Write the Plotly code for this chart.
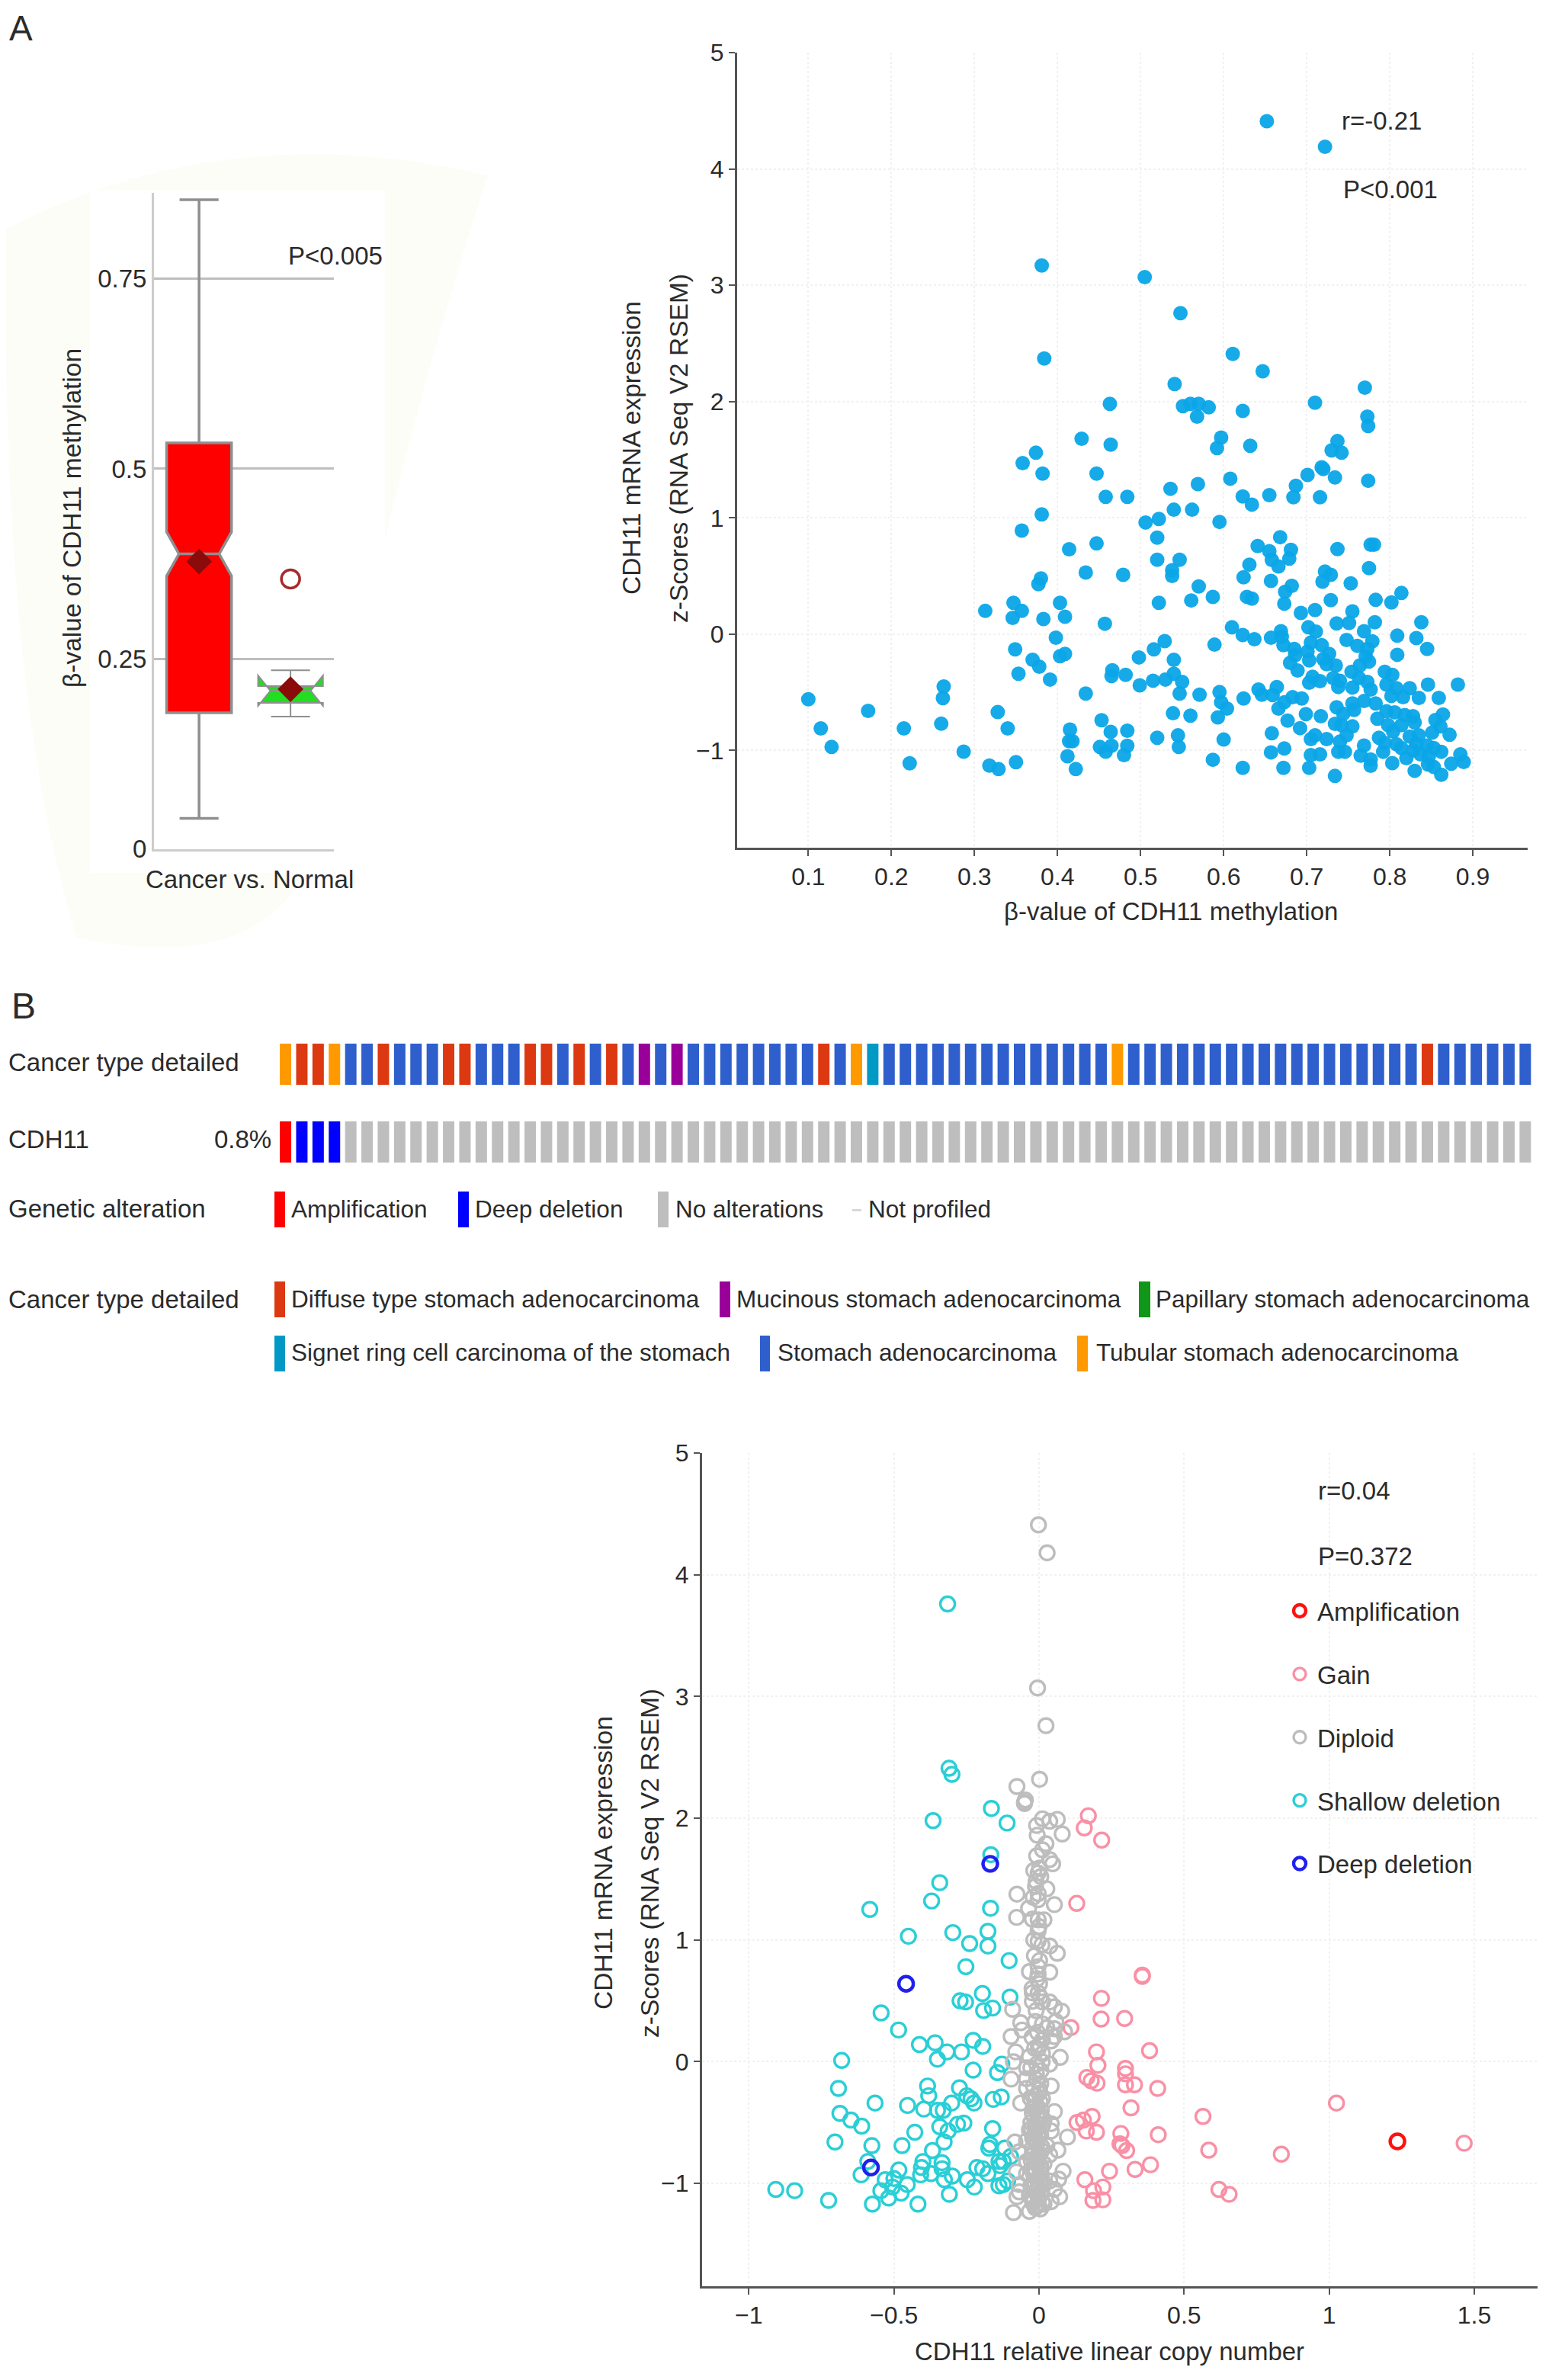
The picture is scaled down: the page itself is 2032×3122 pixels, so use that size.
import plotly.graph_objects as go

W, H = 2032, 3122
PAGE_MARGIN = 8  # the browser's default body margin shifts the whole plot
FONT = "Liberation Sans"
TEXT = "#2b2b2b"

# panel A, box plot
box_names = ["Cancer", "Normal"]
box_upper = [0.854, 0.235]
box_q3 = [0.534, 0.214]
box_median = [0.388, 0.208]
box_q1 = [0.179, 0.192]
box_lower = [0.04, 0.174]
box_notch = [0.029, 0.02]
box_mean = [0.378, 0.21]
box_colors = ["#FF0000", "#22DD22"]
box_line_widths = [3.5, 2]
normal_outlier = [0.355]

# panel A, methylation vs expression
methyl_beta = [
    0.10, 0.115, 0.128, 0.172, 0.215, 0.222, 0.26, 0.262, 0.263, 0.287,
    0.313, 0.318, 0.329, 0.328, 0.34, 0.35, 0.346, 0.347, 0.357, 0.349,
    0.353, 0.357, 0.358, 0.374, 0.382, 0.381, 0.381, 0.384, 0.377, 0.38,
    0.383, 0.37, 0.378, 0.391, 0.398, 0.403, 0.409, 0.403, 0.409, 0.414,
    0.429, 0.447, 0.434, 0.447, 0.434, 0.415, 0.414, 0.418, 0.412, 0.422,
    0.453, 0.451, 0.458, 0.465, 0.464, 0.48, 0.484, 0.484, 0.458, 0.464,
    0.463, 0.484, 0.457, 0.466, 0.465, 0.482, 0.479, 0.498, 0.499, 0.505,
    0.506, 0.516, 0.515, 0.52, 0.52, 0.522, 0.522, 0.529, 0.53, 0.52,
    0.538, 0.538, 0.536, 0.54, 0.541, 0.548, 0.547, 0.54, 0.54, 0.55,
    0.547, 0.539, 0.545, 0.546, 0.551, 0.56, 0.568, 0.57, 0.582, 0.562,
    0.569, 0.57, 0.561, 0.587, 0.571, 0.56, 0.587, 0.589, 0.592, 0.597,
    0.611, 0.623, 0.632, 0.647, 0.652, 0.722, 0.71, 0.73, 0.737, 0.742,
    0.77, 0.773, 0.774, 0.72, 0.701, 0.718, 0.687, 0.684, 0.716, 0.734,
    0.774, 0.655, 0.623, 0.634, 0.595, 0.608, 0.668, 0.641, 0.655, 0.681,
    0.679, 0.658, 0.666, 0.631, 0.624, 0.657, 0.682, 0.674, 0.628, 0.634,
    0.673, 0.737, 0.777, 0.781, 0.775, 0.722, 0.729, 0.719, 0.753, 0.729,
    0.783, 0.814, 0.802, 0.693, 0.71, 0.755, 0.736, 0.751, 0.782, 0.838,
    0.61, 0.623, 0.637, 0.657, 0.669, 0.67, 0.702, 0.711, 0.705, 0.718,
    0.672, 0.685, 0.701, 0.727, 0.72, 0.686, 0.68, 0.689, 0.703, 0.724,
    0.735, 0.748, 0.761, 0.769, 0.779, 0.773, 0.771, 0.775, 0.764, 0.754,
    0.763, 0.809, 0.832, 0.845, 0.809, 0.707, 0.703, 0.716, 0.732, 0.74,
    0.738, 0.755, 0.773, 0.777, 0.794, 0.803, 0.796, 0.808, 0.824, 0.846,
    0.882, 0.859, 0.835, 0.816, 0.802, 0.783, 0.769, 0.755, 0.757, 0.736,
    0.744, 0.642, 0.646, 0.664, 0.659, 0.683, 0.694, 0.673, 0.666, 0.624,
    0.595, 0.597, 0.604, 0.593, 0.6, 0.623, 0.672, 0.657, 0.673, 0.658,
    0.677, 0.692, 0.699, 0.717, 0.705, 0.71, 0.724, 0.705, 0.716, 0.703,
    0.734, 0.738, 0.746, 0.74, 0.748, 0.755, 0.734, 0.742, 0.769, 0.765,
    0.777, 0.777, 0.792, 0.803, 0.82, 0.83, 0.846, 0.853, 0.862, 0.874,
    0.889, 0.885, 0.862, 0.872, 0.864, 0.855, 0.861, 0.851, 0.845, 0.853,
    0.837, 0.847, 0.828, 0.835, 0.83, 0.828, 0.818, 0.806, 0.796, 0.785,
    0.798, 0.814, 0.824, 0.804, 0.787, 0.808, 0.794, 0.814, 0.832,
]
methyl_z = [
    -0.56, -0.81, -0.97, -0.66, -0.81, -1.11, -0.77, -0.55, -0.45, -1.01,
    0.20, -1.13, -1.16, -0.67, -0.81, -1.10, 0.14, 0.27, 0.20, -0.13,
    -0.34, 0.89, 1.47, 1.56, 1.38, 1.03, 3.17, 2.37, 0.43, 0.48,
    0.13, -0.22, -0.28, -0.39, -0.03, 0.27, 0.15, -0.19, -0.17, 0.73,
    1.68, 1.38, 0.53, 0.78, -0.51, -0.82, -0.92, -0.92, -1.05, -1.16,
    -0.74, -0.97, -1.01, -0.96, -0.84, -1.04, -0.96, -0.83, 1.18, 1.63,
    1.98, 1.18, 0.09, -0.31, -0.36, -0.35, 0.51, -0.20, -0.44, 3.07,
    0.96, -0.13, -0.40, 0.83, 0.64, 0.99, 0.27, -0.06, -0.39, -0.89,
    0.55, 0.50, 1.25, 1.07, 2.15, 2.76, 0.64, -0.22, -0.34, -0.41,
    -0.51, -0.68, -0.87, -0.97, 1.96, 1.98, 1.87, 1.98, 1.95, 1.07,
    1.29, 0.41, 0.29, 0.32, -0.52, -0.70, -1.08, -0.09, 1.60, 1.69,
    2.41, 1.92, 1.62, 2.26, 4.41, 4.19, 1.99, 1.58, 1.66, 1.56,
    2.12, 1.87, 1.79, 1.42, 1.369, 1.435, 1.275, 1.177, 1.177, 1.347,
    1.319, 1.195, 1.184, 1.114, 0.965, 1.337, 0.834, 0.758, 0.714, 0.725,
    0.649, 0.638, 0.583, 0.598, 0.489, 0.458, 0.415, 0.365, 0.321, 0.306,
    0.262, 0.731, 0.769, 0.769, 0.568, 0.539, 0.511, 0.452, 0.437, 0.293,
    0.295, 0.354, 0.273, 0.183, 0.207, 0.196, 0.092, 0.096, 0.103, 0.103,
    0.059, -0.007, -0.044, -0.031, 0.026, -0.022, 0.059, 0.022, -0.072, -0.094,
    -0.094, -0.127, -0.149, -0.17, -0.214, -0.181, -0.247, -0.312, -0.225, -0.258,
    -0.269, -0.05, -0.1, 0.026, -0.061, -0.127, -0.192, -0.236, -0.269, -0.323,
    -0.378, -0.013, -0.033, -0.127, -0.177, -0.367, -0.417, -0.404, -0.378, -0.4,
    -0.454, -0.459, -0.41, -0.476, -0.323, -0.35, -0.433, -0.465, -0.465, -0.433,
    -0.433, -0.548, -0.548, -0.542, -0.531, -0.596, -0.575, -0.596, -0.651, -0.629,
    -0.684, -0.476, -0.52, -0.454, -0.524, -0.542, -0.553, -0.585, -0.64, -0.553,
    -0.498, -0.585, -0.64, -0.716, -0.906, -1.149, -1.149, -1.016, -0.983, -0.852,
    -0.743, -0.808, -0.688, -0.706, -0.902, -0.869, -0.902, -1.04, -1.033, -1.149,
    -1.219, -1.011, -1.011, -0.924, -0.869, -0.793, -0.771, -0.782, -0.957, -1.044,
    -1.077, -1.131, -1.011, -1.109, -1.066, -1.175, -1.12, -1.142, -1.208, -1.114,
    -1.099, -1.033, -1.011, -0.865, -0.69, -0.738, -0.793, -0.847, -0.957, -0.979,
    -1.033, -1.055, -1.0, -0.869, -0.76, -0.706, -0.695, -0.673, -0.662, -0.727,
    -0.782, -0.782, -0.88, -0.836, -0.891, -0.946, -0.935, -0.979, -0.946,
]

# panel B, oncoprint: D diffuse, M mucinous, P papillary, S signet, A stomach, T tubular
cancer_track = (list("TDDTAADAAADDAAADDADADAMAMAAAAAAAA") + list("DATS")
                + ["A"] * 14 + ["T"] + ["A"] * 18 + ["D"] + ["A"] * 6)
alteration_track = ["R", "B", "B", "B"] + ["N"] * 73
cancer_colors = {"D": "#DC3912", "M": "#990099", "P": "#109618", "S": "#0099C6", "A": "#2E5FCC", "T": "#FF9900"}
alteration_colors = {"R": "#FF0000", "B": "#0000FF", "N": "#BEBEBE"}

# panel B, copy number vs expression
amp_cn = [1.235]
amp_z = [-0.655]
deep_cn = [-0.168, -0.458, -0.579]
deep_z = [1.625, 0.64, -0.87]
gain_cn = [
    0.17, 0.156, 0.216, 0.13, 0.356, 0.356, 0.215, 0.214, 0.295, 0.11,
    0.198, 0.381, 0.203, 0.298, 0.298, 0.165, 0.18, 0.2, 0.298, 0.329,
    0.409, 0.317, 0.565, 0.183, 0.153, 0.131, 0.163, 0.198, 0.282, 0.279,
    0.286, 0.302, 0.411, 0.585, 0.384, 0.331, 0.243, 0.158, 0.22, 0.188,
    0.186, 0.22, 0.62, 0.655, 0.835, 1.025, 1.465,
]
gain_z = [
    2.02, 1.92, 1.82, 1.30, 0.71, 0.70, 0.52, 0.35, 0.355, 0.28,
    0.08, 0.09, -0.03, -0.055, -0.10, -0.13, -0.157, -0.177, -0.19, -0.19,
    -0.22, -0.38, -0.45, -0.45, -0.48, -0.50, -0.57, -0.58, -0.59, -0.675,
    -0.69, -0.73, -0.60, -0.727, -0.847, -0.885, -0.90, -0.97, -1.03, -1.06,
    -1.14, -1.135, -1.05, -1.09, -0.76, -0.34, -0.67,
]
shallow_cn = [
    -0.315, -0.31, -0.30, -0.365, -0.164, -0.11, -0.166, -0.342, -0.37, -0.167,
    -0.583, -0.45, -0.297, -0.239, -0.176, -0.176, -0.103, -0.252, -0.195, -0.1,
    -0.272, -0.253, -0.16, -0.191, -0.544, -0.484, -0.412, -0.358, -0.35, -0.317,
    -0.267, -0.227, -0.194, -0.227, -0.68, -0.128, -0.143, -0.691, -0.384, -0.38,
    -0.565, -0.453, -0.397, -0.301, -0.35, -0.33, -0.274, -0.249, -0.234, -0.224,
    -0.158, -0.13, -0.686, -0.648, -0.611, -0.703, -0.576, -0.472, -0.428, -0.367,
    -0.342, -0.313, -0.327, -0.281, -0.259, -0.16, -0.169, -0.173, -0.118, -0.098,
    -0.138, -0.123, -0.134, -0.59, -0.613, -0.483, -0.53, -0.5, -0.454, -0.505,
    -0.545, -0.475, -0.518, -0.574, -0.417, -0.725, -0.907, -0.842, -0.4, -0.405,
    -0.408, -0.372, -0.334, -0.334, -0.326, -0.299, -0.309, -0.247, -0.223, -0.214,
    -0.194, -0.176, -0.138, -0.123, -0.108,
]
shallow_z = [
    3.76, 2.41, 2.36, 1.98, 2.08, 1.96, 1.70, 1.47, 1.32, 1.26,
    1.25, 1.03, 1.06, 0.97, 1.07, 0.95, 0.83, 0.78, 0.56, 0.53,
    0.50, 0.49, 0.44, 0.42, 0.40, 0.26, 0.14, 0.155, 0.02, 0.08,
    0.08, 0.175, 0.125, -0.07, 0.01, -0.02, -0.09, -0.22, -0.20, -0.28,
    -0.34, -0.36, -0.39, -0.34, -0.40, -0.40, -0.215, -0.28, -0.305, -0.34,
    -0.31, -0.29, -0.425, -0.48, -0.53, -0.66, -0.69, -0.69, -0.58, -0.73,
    -0.535, -0.57, -0.66, -0.515, -0.505, -0.55, -0.68, -0.71, -0.71, -0.78,
    -0.82, -0.82, -0.855, -0.82, -0.93, -0.89, -0.97, -0.96, -1.01, -1.03,
    -1.06, -1.08, -1.12, -1.17, -1.17, -1.14, -1.05, -1.06, -0.82, -0.87,
    -0.93, -0.92, -0.83, -0.88, -0.97, -0.94, -1.09, -0.97, -1.03, -0.87,
    -0.88, -0.92, -1.02, -1.01, -0.98,
]
diploid_cn = [
    -0.002, 0.028, -0.005, 0.024, 0.002, -0.076, -0.047, -0.05, -0.05, -0.008,
    0.012, 0.037, 0.063, 0.08, -0.006, 0.024, 0.012, -0.008, 0.037, 0.047,
    -0.018, 0.002, -0.003, -0.01, 0.027, -0.076, -0.003, -0.003, 0.053, -0.036,
    -0.077, -0.023, -0.003, 0.017, -0.003, -0.018, -0.003, 0.037, 0.063, 0.002,
    -0.033, -0.003, 0.037, -0.003, 0.002, -0.023, -0.003, -0.023, 0.012, 0.037,
    0.053, 0.078, -0.091, 0.058, -0.063, -0.058, -0.013, 0.012, 0.027, 0.053,
    0.088, -0.096, 0.053, 0.012, 0.042, -0.08, 0.073, -0.003, 0.012, -0.033,
    -0.088, -0.043, 0.037, -0.096, -0.043, -0.008, 0.007, 0.042, -0.043, -0.008,
    0.002, -0.063, -0.028, 0.012, -0.008, 0.053, -0.023, 0.002, -0.028, -0.008,
    0.017, 0.042, -0.033, -0.003, 0.042, 0.098, -0.043, -0.013, 0.027, -0.083,
    -0.068, 0.065, 0.037, -0.023, 0.002, -0.043, -0.008, 0.017, -0.078, 0.083,
    0.068, -0.043, -0.018, 0.007, 0.037, -0.068, -0.028, -0.003, 0.017, 0.053,
    -0.068, -0.076, -0.033, -0.003, 0.042, 0.071, 0.017, -0.088, -0.033, -0.013,
    -0.012, 0.004, -0.02, 0.008, -0.014, 0.006, -0.022, 0.01, -0.006, -0.018,
    0.003, -0.025, 0.009, -0.01, 0.005, -0.02, 0.012, -0.004, -0.016, 0.007,
    -0.005, -0.024, 0.002, -0.015, 0.011, -0.028, -0.009, 0.006, -0.019, 0.0,
    -0.03, -0.012, 0.008, -0.021, -0.004, 0.013, -0.026, -0.014, 0.004, -0.008,
    -0.023, 0.009, -0.017, -0.002, -0.027, 0.006, -0.011, -0.02, 0.001, -0.006,
    -0.015, 0.003, -0.024, -0.009, 0.01, -0.018, -0.001, -0.013, 0.005, -0.022,
    0.006, -0.012, -0.02, 0.0, 0.01, -0.016, -0.006, -0.024, 0.004, -0.01,
]
diploid_z = [
    4.41, 4.18, 3.07, 2.76, 2.32, 2.26, 2.15, 2.13, 2.12, 1.94,
    1.995, 1.975, 1.99, 1.87, 1.86, 1.79, 1.74, 1.69, 1.66, 1.625,
    1.57, 1.59, 1.55, 1.48, 1.42, 1.376, 1.38, 1.33, 1.29, 1.26,
    1.185, 1.17, 1.165, 1.165, 1.075, 1.0, 0.99, 0.95, 0.89, 0.83,
    0.74, 0.78, 0.735, 0.72, 0.64, 0.565, 0.565, 0.495, 0.49, 0.49,
    0.45, 0.415, 0.43, 0.33, 0.32, 0.26, 0.33, 0.31, 0.28, 0.27,
    0.245, 0.206, 0.206, 0.18, 0.17, 0.08, 0.035, 0.104, 0.065, 0.04,
    0.0, -0.05, -0.02, -0.144, -0.14, -0.02, -0.075, -0.2, -0.22, -0.15,
    -0.23, -0.34, -0.305, -0.305, -0.36, -0.41, -0.42, -0.43, -0.50, -0.51,
    -0.48, -0.51, -0.56, -0.586, -0.57, -0.62, -0.65, -0.66, -0.69, -0.66,
    -0.74, -0.727, -0.765, -0.75, -0.765, -0.82, -0.84, -0.84, -0.906, -0.90,
    -0.965, -0.92, -0.93, -0.92, -0.98, -1.01, -1.02, -1.03, -1.01, -1.05,
    -1.07, -1.11, -1.10, -1.11, -1.15, -1.11, -1.17, -1.24, -1.23, -1.2,
    -0.28, -0.33, -0.38, -0.46, -0.54, -0.6, -0.63, -0.7, -0.78, -0.8,
    -0.87, -0.88, -0.96, -1.06, -1.09, -1.14, -1.16, -1.18, -0.62, -0.45,
    0.24, 0.2, 0.14, 0.11, 0.0, -0.05, -0.1, -0.18, -0.2, -0.26,
    -0.3, -0.37, -0.4, -0.44, -0.47, -0.52, -0.55, -0.58, -0.61, -0.68,
    -0.71, -0.73, -0.76, -0.79, -0.81, -0.86, -0.89, -0.91, -0.94, -0.97,
    -0.99, -1.0, -1.04, -1.06, -1.08, -1.12, -1.13, -1.19, -1.21, -1.16,
    1.52, 1.44, 1.35, 1.11, 0.96, 0.87, 0.68, 0.6, 0.53, 0.42,
]


def fx(px):
    return (px - PAGE_MARGIN) / W


def fy(py):
    return 1 - (py - PAGE_MARGIN) / H


def text(x, y, s, size=33, anchor="left", angle=0):
    return dict(x=fx(x), y=fy(y), xref="paper", yref="paper", text=s, showarrow=False,
                xanchor=anchor, yanchor="middle", textangle=angle,
                font=dict(family=FONT, size=size, color=TEXT))


def swatch(x0, x1, y0, y1, color):
    return dict(type="rect", xref="paper", yref="paper", x0=fx(x0), x1=fx(x1), y0=fy(y1), y1=fy(y0),
                fillcolor=color, line_width=0)


fig = go.Figure()

for i in range(2):
    fig.add_trace(go.Box(
        x=[i], q1=[box_q1[i]], median=[box_median[i]], q3=[box_q3[i]],
        lowerfence=[box_lower[i]], upperfence=[box_upper[i]], notchspan=[box_notch[i]],
        name=box_names[i], notched=True, notchwidth=0.19, width=0.71, whiskerwidth=0.6,
        fillcolor=box_colors[i], line=dict(color="#8F8F8F", width=box_line_widths[i]),
        xaxis="x", yaxis="y", showlegend=False, boxpoints=False,
    ))
fig.add_trace(go.Scatter(x=[0, 1], y=box_mean, mode="markers", xaxis="x", yaxis="y", showlegend=False,
                         marker=dict(symbol="diamond", size=26, color="#8B0A0A")))
fig.add_trace(go.Scatter(x=[1], y=normal_outlier, mode="markers", xaxis="x", yaxis="y", showlegend=False,
                         marker=dict(size=24, color="#FFFFFF", line=dict(color="#A52A2A", width=3.5))))

fig.add_trace(go.Scatter(x=methyl_beta, y=methyl_z, mode="markers", xaxis="x2", yaxis="y2", showlegend=False,
                         marker=dict(size=19, color="#0AA5E8", opacity=0.95)))

samples = list(range(len(cancer_track)))
fig.add_trace(go.Bar(x=samples, y=[54] * len(samples), base=102, width=0.7, xaxis="x3", yaxis="y3",
                     marker=dict(color=[cancer_colors[c] for c in cancer_track], line_width=0), showlegend=False))
fig.add_trace(go.Bar(x=samples, y=[54] * len(samples), base=0, width=0.7, xaxis="x3", yaxis="y3",
                     marker=dict(color=[alteration_colors[c] for c in alteration_track], line_width=0), showlegend=False))

# draw order differs from the legend order, so legendrank sets the latter
cn_series = [
    ("Shallow deletion", shallow_cn, shallow_z, "#2ACFD6", 3.4, 4),
    ("Gain", gain_cn, gain_z, "#F990A5", 3.4, 2),
    ("Diploid", diploid_cn, diploid_z, "#BDBDBD", 3.4, 3),
    ("Amplification", amp_cn, amp_z, "#FF1010", 4.4, 1),
    ("Deep deletion", deep_cn, deep_z, "#2020EE", 4.4, 5),
]
for name, xs, ys, color, lw, rank in cn_series:
    fig.add_trace(go.Scatter(
        x=xs, y=ys, mode="markers", name=name, xaxis="x4", yaxis="y4", legendgroup=name, legendrank=rank,
        marker=dict(size=19, color="rgba(255,255,255,0)", line=dict(color=color, width=lw)),
    ))

annotations = [
    text(10, 37, "A", 46),
    text(13, 1319, "B", 48),
    text(95, 680, "β-value of CDH11 methylation", 33.5, angle=-90, anchor="center"),
    text(376, 336, "P&lt;0.005"),
    text(327, 1154, "Cancer vs. Normal", anchor="center"),
    text(829, 588, "CDH11 mRNA expression", 33.5, angle=-90, anchor="center"),
    text(891, 588, "z-Scores (RNA Seq V2 RSEM)", 33.5, angle=-90, anchor="center"),
    text(1758, 159, "r=-0.21"),
    text(1760, 248, "P&lt;0.001"),
    text(1536, 1196, "β-value of CDH11 methylation", anchor="center"),
    text(9, 1394, "Cancer type detailed"),
    text(9, 1494, "CDH11"),
    text(358, 1494, "0.8%", anchor="right"),
    text(9, 1586, "Genetic alteration"),
    text(380, 1586, "Amplification", 31.5),
    text(621, 1586, "Deep deletion", 31.5),
    text(884, 1586, "No alterations", 31.5),
    text(1137, 1586, "Not profiled", 31.5),
    text(9, 1704, "Cancer type detailed"),
    text(380, 1704, "Diffuse type stomach adenocarcinoma", 31.5),
    text(964, 1704, "Mucinous stomach adenocarcinoma", 31.5),
    text(1514, 1704, "Papillary stomach adenocarcinoma", 31.5),
    text(380, 1774, "Signet ring cell carcinoma of the stomach", 31.5),
    text(1018, 1774, "Stomach adenocarcinoma", 31.5),
    text(1436, 1774, "Tubular stomach adenocarcinoma", 31.5),
    text(791, 2444, "CDH11 mRNA expression", 33.5, angle=-90, anchor="center"),
    text(852, 2444, "z-Scores (RNA Seq V2 RSEM)", 33.5, angle=-90, anchor="center"),
    text(1727, 1956, "r=0.04"),
    text(1727, 2042, "P=0.372"),
    text(1455, 3084, "CDH11 relative linear copy number", anchor="center"),
]

shapes = [
    dict(type="path", xref="paper", yref="paper", layer="below", fillcolor="#FDFDF8", line_width=0,
         path="M {} {} Q {} {} {} {} Q {} {} {} {} Q {} {} {} {} Q {} {} {} {} Z".format(
             fx(8), fy(300), fx(300), fy(150), fx(640), fy(230),
             fx(520), fy(600), fx(440), fy(1000),
             fx(420), fy(1300), fx(100), fy(1230),
             fx(0), fy(900), fx(8), fy(300))),
    dict(type="rect", xref="paper", yref="paper", layer="below", fillcolor="#FFFFFF", line_width=0,
         x0=fx(118), x1=fx(505), y0=fy(1145), y1=fy(250)),
    swatch(360, 374, 1563, 1610, "#FF0000"),
    swatch(601, 615, 1563, 1610, "#0000FF"),
    swatch(863, 877, 1563, 1610, "#BEBEBE"),
    swatch(1118, 1130, 1586, 1589, "#D8D8D8"),
    swatch(360, 374, 1681, 1728, "#DC3912"),
    swatch(944, 958, 1681, 1728, "#990099"),
    swatch(1494, 1509, 1681, 1728, "#109618"),
    swatch(360, 374, 1752, 1799, "#0099C6"),
    swatch(997, 1010, 1752, 1799, "#2E5FCC"),
    swatch(1413, 1427, 1752, 1799, "#FF9900"),
]

scatter_axis = dict(showline=True, linecolor="#555555", linewidth=3, ticks="outside", ticklen=8, tickwidth=2,
                    tickcolor="#555555", zeroline=False, showgrid=True, gridcolor="#F1F1F1", griddash="dot",
                    gridwidth=1.5, tickfont=dict(family=FONT, size=32, color=TEXT))

fig.update_layout(
    width=W, height=H, autosize=False, margin=dict(l=0, r=0, t=0, b=0, autoexpand=False),
    paper_bgcolor="#FFFFFF", plot_bgcolor="rgba(0,0,0,0)",
    font=dict(family=FONT, size=33, color=TEXT),
    boxmode="overlay", barmode="overlay", annotations=annotations, shapes=shapes,
    xaxis=dict(domain=[fx(202), fx(437.5)], range=[-0.493, 1.47], showticklabels=False, ticks="",
               showgrid=False, zeroline=False, showline=True, linecolor="#CDCDCD", linewidth=3),
    yaxis=dict(domain=[fy(1113.5), fy(253)], range=[0, 0.863], tickvals=[0, 0.25, 0.5, 0.75],
               ticktext=["0", "0.25", "0.5", "0.75"], showgrid=True, gridcolor="#BEBEBE", gridwidth=2.5,
               zeroline=False, showline=True, linecolor="#CDCDCD", linewidth=3, ticks="",
               tickfont=dict(family=FONT, size=33, color=TEXT)),
    xaxis2=dict(domain=[fx(967), fx(2004)], range=[0.0143, 0.966], anchor="y2",
                tickvals=[0.1, 0.2, 0.3, 0.4, 0.5, 0.6, 0.7, 0.8, 0.9], **scatter_axis),
    yaxis2=dict(domain=[fy(1112), fy(69)], range=[-1.836, 5], anchor="x2", tickvals=[-1, 0, 1, 2, 3, 4, 5], **scatter_axis),
    xaxis3=dict(domain=[0, 1], range=[-17.13, 77.83], anchor="y3", visible=False),
    yaxis3=dict(domain=[fy(1525), fy(1369)], range=[0, 156], anchor="x3", visible=False),
    xaxis4=dict(domain=[fx(921), fx(2017)], range=[-1.161, 1.718], anchor="y4",
                tickvals=[-1, -0.5, 0, 0.5, 1, 1.5], ticktext=["−1", "−0.5", "0", "0.5", "1", "1.5"], **scatter_axis),
    yaxis4=dict(domain=[fy(2999), fy(1906)], range=[-1.845, 5], anchor="x4", tickvals=[-1, 0, 1, 2, 3, 4, 5], **scatter_axis),
    legend=dict(x=fx(1682), y=fy(2085), xanchor="left", yanchor="top", bgcolor="rgba(0,0,0,0)", itemwidth=36,
                tracegroupgap=37, itemsizing="trace", font=dict(family=FONT, size=33, color=TEXT)),
    showlegend=True,
)

fig.write_html("out.html")
